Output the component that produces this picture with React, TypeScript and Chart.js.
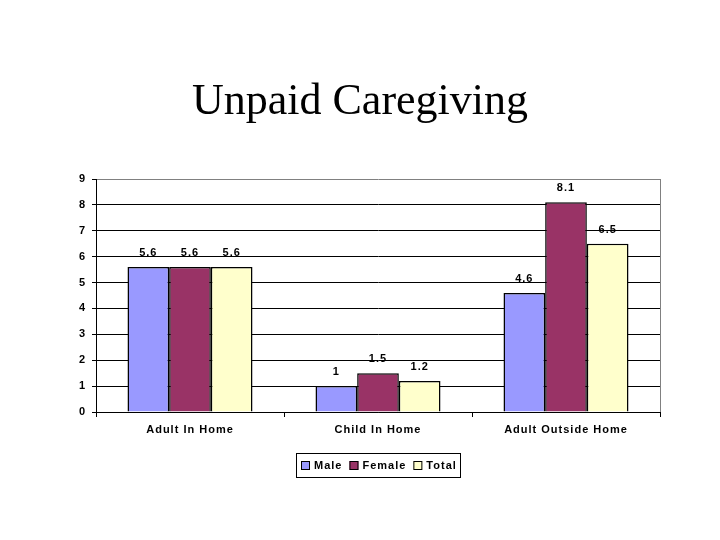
import { useEffect, useRef } from "react"
import { Chart, registerables, type ChartConfiguration, type Plugin } from "chart.js"

Chart.register(...registerables)

const title = "Unpaid Caregiving"
const categories = ["Adult In Home", "Child In Home", "Adult Outside Home"]
const seriesNames = ["Male", "Female", "Total"]
const maleValues = [5.6, 1, 4.6]
const femaleValues = [5.6, 1.5, 8.1]
const totalValues = [5.6, 1.2, 6.5]
const seriesColors = ["#9999FF", "#993366", "#FFFFCC"]
const yTicks = [0, 1, 2, 3, 4, 5, 6, 7, 8, 9]

const FONT = "Arial, 'Liberation Sans', sans-serif"
const SPACING = "1px"

// 자간 설정 (원본의 넓은 글자 간격)
const spacing: Plugin<"bar"> = {
  id: "spacing",
  beforeDraw(chart) {
    ;(chart.ctx as any).letterSpacing = SPACING
  },
}

// 제목, 데이터 라벨, 범례, 테두리 그리기
const decorations: Plugin<"bar"> = {
  id: "decorations",
  afterDraw(chart) {
    const { ctx, chartArea } = chart
    ctx.save()

    // 제목
    ;(ctx as any).letterSpacing = "0px"
    ctx.fillStyle = "#000"
    ctx.font = "44px 'Liberation Serif', 'Times New Roman', serif"
    ctx.textAlign = "center"
    ctx.textBaseline = "alphabetic"
    ctx.fillText(title, 360, 114)

    // 플롯 영역 오른쪽 테두리
    ctx.strokeStyle = "#808080"
    ctx.lineWidth = 1
    ctx.beginPath()
    ctx.moveTo(chartArea.right + 0.5, chartArea.top)
    ctx.lineTo(chartArea.right + 0.5, chartArea.bottom)
    ctx.stroke()

    // 데이터 라벨
    ;(ctx as any).letterSpacing = SPACING
    ctx.font = `bold 11px ${FONT}`
    ctx.textBaseline = "middle"
    ctx.fillStyle = "#000"
    chart.data.datasets.forEach((ds, i) => {
      const meta = chart.getDatasetMeta(i)
      meta.data.forEach((bar, j) => {
        const v = ds.data[j] as number
        ctx.fillText(String(v), bar.x, bar.y - 14)
      })
    })

    // 범례
    ctx.font = `bold 11px ${FONT}`
    ctx.textAlign = "left"
    const sw = 9
    const gap = 4
    const itemGap = 7
    const widths = seriesNames.map((n) => sw + gap + ctx.measureText(n).width)
    const inner = widths.reduce((a, b) => a + b, 0) + itemGap * (seriesNames.length - 1)
    const boxW = Math.round(inner + 8)
    const boxH = 24
    const boxX = Math.round((chartArea.left + chartArea.right) / 2 - boxW / 2)
    const boxY = 453
    ctx.strokeStyle = "#000"
    ctx.lineWidth = 1
    ctx.strokeRect(boxX + 0.5, boxY + 0.5, boxW, boxH)
    let x = boxX + 5
    const cy = boxY + boxH / 2 + 0.5
    seriesNames.forEach((name, i) => {
      ctx.fillStyle = seriesColors[i]
      ctx.fillRect(x, cy - sw / 2, sw, sw)
      ctx.strokeRect(x + 0.5, cy - sw / 2 + 0.5, sw - 1, sw - 1)
      ctx.fillStyle = "#000"
      ctx.fillText(name, x + sw + gap, cy)
      x += widths[i] + itemGap
    })

    ctx.restore()
  },
}

export default function App() {
  const chartRef = useRef<HTMLCanvasElement>(null)
  const chartInstance = useRef<Chart<"bar"> | null>(null)

  useEffect(() => {
    document.body.style.margin = "0"
    if (!chartRef.current) return
    const ctx = chartRef.current.getContext("2d")
    if (!ctx) return

    if (chartInstance.current) {
      chartInstance.current.destroy()
    }

    const values = [maleValues, femaleValues, totalValues]

    const config: ChartConfiguration<"bar"> = {
      type: "bar",
      data: {
        labels: categories,
        datasets: seriesNames.map((name, i) => ({
          label: name,
          data: values[i],
          backgroundColor: seriesColors[i],
          borderColor: "#000",
          borderWidth: 1.5,
          categoryPercentage: 0.665,
          barPercentage: 1,
        })),
      },
      options: {
        responsive: false,
        animation: false,
        devicePixelRatio: 1,
        layout: {
          padding: { top: 179, right: 60, bottom: 98, left: 56 },
        },
        plugins: {
          legend: { display: false },
          title: { display: false },
          tooltip: { enabled: false },
        },
        scales: {
          x: {
            afterFit: (scale) => {
              scale.height = 30
            },
            border: { color: "#000", width: 1 },
            grid: {
              drawOnChartArea: false,
              drawTicks: true,
              tickLength: 5,
              color: "#000",
              offset: true,
            },
            ticks: {
              color: "#000",
              padding: 6,
              font: { family: FONT, size: 11, weight: "bold" },
            },
          },
          y: {
            min: yTicks[0],
            max: yTicks[yTicks.length - 1],
            afterFit: (scale) => {
              scale.width = 40
            },
            afterBuildTicks: (scale) => {
              scale.ticks = yTicks.map((v) => ({ value: v }))
            },
            border: { color: "#000", width: 1 },
            grid: {
              color: (c) => (c.tick && c.tick.value === 9 ? "#808080" : "#000"),
              tickColor: "#000",
              tickLength: 4,
              lineWidth: 1,
            },
            ticks: {
              color: "#000",
              padding: 6,
              font: { family: FONT, size: 11, weight: "bold" },
            },
          },
        },
      },
      plugins: [spacing, decorations],
    }

    chartInstance.current = new Chart(ctx, config)

    return () => {
      if (chartInstance.current) {
        chartInstance.current.destroy()
        chartInstance.current = null
      }
    }
  }, [])

  return (
    <div style={{ width: 720, height: 540, background: "#fff" }}>
      <canvas ref={chartRef} width={720} height={540} />
    </div>
  )
}
